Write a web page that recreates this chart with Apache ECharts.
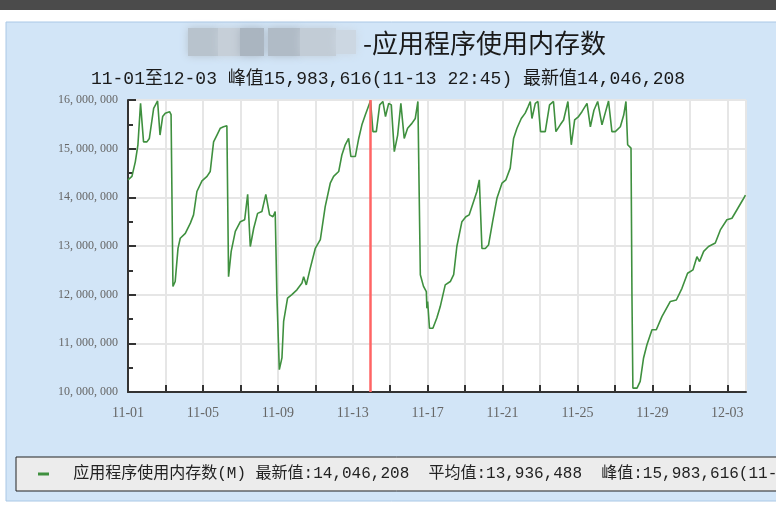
<!DOCTYPE html>
<html lang="zh">
<head>
    <meta charset="utf-8">
    <title>应用程序使用内存数</title>
    <script src="https://cdn.jsdelivr.net/npm/echarts@6/dist/echarts.min.js"></script>
    <style type="text/css">
        html, body {
            margin: 0;
            padding: 0;
            background: #fff;
        }

        #main {
            width: 776px;
            height: 507px;
        }
    </style>
</head>
<body>
<div id="main"></div>

<script type="text/javascript">
    // 时间(距 11-01 00:00 的天数) 和 内存数
    var dayOffsets = [
        0.00, 0.21, 0.39, 0.53, 0.67, 0.83, 1.01, 1.14, 1.22, 1.37, 1.58, 1.71, 1.85, 1.99, 2.22, 2.30,
        2.40, 2.52, 2.67, 2.79, 3.06, 3.33, 3.50, 3.68, 3.95, 4.22, 4.39, 4.57, 4.75, 4.93, 5.10, 5.28,
        5.37, 5.51, 5.73, 6.00, 6.23, 6.39, 6.53, 6.71, 6.92, 7.15, 7.36, 7.56, 7.74, 7.86, 7.95, 8.08,
        8.15, 8.22, 8.31, 8.52, 8.75, 9.02, 9.29, 9.38, 9.52, 9.73, 10.00, 10.27, 10.53, 10.80, 10.98,
        11.25, 11.42, 11.60, 11.78, 11.90, 12.14, 12.32, 12.49, 12.67, 12.95, 13.08, 13.26, 13.44, 13.61,
        13.75, 13.92, 14.06, 14.22, 14.40, 14.57, 14.75, 14.93, 15.16, 15.34, 15.48, 15.55, 15.61, 15.78,
        15.93, 15.96, 16.00, 16.10, 16.28, 16.49, 16.67, 16.94, 17.21, 17.39, 17.56, 17.83, 18.04, 18.22,
        18.45, 18.63, 18.76, 18.90, 19.08, 19.25, 19.47, 19.70, 19.97, 20.18, 20.41, 20.59, 20.77, 21.00,
        21.21, 21.36, 21.48, 21.57, 21.75, 21.89, 22.03, 22.28, 22.51, 22.72, 22.85, 23.08, 23.26, 23.49,
        23.67, 23.85, 24.06, 24.24, 24.51, 24.69, 24.88, 25.08, 25.31, 25.48, 25.66, 25.84, 26.02, 26.29,
        26.47, 26.59, 26.68, 26.86, 26.91, 26.96, 27.18, 27.35, 27.53, 27.71, 27.98, 28.21, 28.51, 28.96,
        29.28, 29.58, 29.88, 30.17, 30.38, 30.52, 30.74, 31.00, 31.36, 31.63, 31.98, 32.25, 32.51, 32.83,
        32.97
    ];
    var memValues = [
        14360000, 14430000, 14730000, 15080000, 15930000, 15140000, 15140000, 15210000, 15250000, 15830000,
        15980000, 15280000, 15660000, 15730000, 15760000, 15700000,
        12170000, 12270000, 12950000, 13160000, 13260000, 13470000, 13640000, 14120000, 14340000, 14430000,
        14530000, 15140000, 15280000, 15420000, 15450000, 15470000,
        12370000, 12890000, 13300000, 13500000, 13540000, 14060000, 12990000, 13360000, 13670000, 13710000,
        14060000, 13640000, 13600000, 13710000, 11990000, 10460000,
        10480000, 10700000, 11450000, 11930000, 12000000, 12100000, 12240000, 12370000, 12200000, 12540000,
        12950000, 13130000, 13810000, 14290000, 14430000,
        14530000, 14870000, 15080000, 15210000, 14840000, 14840000, 15210000, 15490000, 15690000, 15983616,
        15350000, 15350000, 15900000, 15970000,
        15660000, 15930000, 15900000, 14940000, 15280000, 15930000, 15210000, 15420000, 15520000, 15620000,
        15970000, 14050000, 12410000, 12170000,
        12060000, 11720000, 11860000, 11310000, 11310000, 11520000, 11750000, 12200000, 12270000, 12410000,
        12990000, 13500000, 13600000, 13640000,
        13910000, 14120000, 14360000, 12950000, 12950000, 13020000, 13500000, 13980000, 14290000, 14360000,
        14600000, 15210000, 15420000, 15620000,
        15730000, 15860000, 15970000, 15620000, 15930000, 15970000, 15350000, 15350000, 15900000, 15970000,
        15350000, 15490000, 15590000, 15970000,
        15080000, 15590000, 15660000, 15760000, 15930000, 15450000, 15790000, 15970000, 15490000, 15730000,
        15980000, 15350000, 15350000, 15450000,
        15690000, 15970000, 15080000, 15010000, 12000000, 10080000, 10080000, 10220000, 10700000, 10970000,
        11280000, 11280000, 11550000, 11860000,
        11890000, 12130000, 12440000, 12510000, 12780000, 12680000, 12890000, 12990000, 13060000, 13330000,
        13540000, 13570000, 13740000, 13950000,
        14046208
    ];
    var yTicks = [10000000, 11000000, 12000000, 13000000, 14000000, 15000000, 16000000];
    var peakDay = 12.95;
    var peakText = '15,983,616(11-13 22:45)';
    var latestText = '14,046,208';
    var avgText = '13,936,488';
    var seriesName = '应用程序使用内存数(M)';

    var lineData = [];
    for (var i = 0; i < dayOffsets.length; i++) {
        lineData.push([dayOffsets[i], memValues[i]]);
    }

    function fmtNum(v) {
        return String(Math.round(v)).replace(/\B(?=(\d{3})+(?!\d))/g, ', ');
    }

    function dayLabel(v) {
        if (Math.abs(v % 4) > 1e-6) return '';
        var d = v + 1;
        var m = 11;
        if (d > 30) {
            d = d - 30;
            m = 12;
        }
        return m + '-' + (d < 10 ? '0' + d : d);
    }

    var myChart = echarts.init(document.getElementById('main'));
    var option = {
        backgroundColor: '#fff',
        animation: false,
        title: [{
            text: '-应用程序使用内存数',
            left: 358,
            top: 25,
            textStyle: {
                fontFamily: 'Noto Sans CJK SC',
                fontSize: 26,
                fontWeight: 'normal',
                color: '#1a1a1a'
            }
        }, {
            text: '11-01至12-03 峰值' + peakText + ' 最新值' + latestText,
            left: 'center',
            top: 65,
            textStyle: {
                fontFamily: 'Liberation Mono, Noto Sans CJK SC',
                fontSize: 18,
                fontWeight: 'normal',
                color: '#1a1a1a'
            }
        }],
        graphic: [
            {type: 'rect', z: -20, silent: true, shape: {x: 0, y: 0, width: 776, height: 10}, style: {fill: '#4b4b4b'}},
            {type: 'rect', z: -19, silent: true, shape: {x: 6, y: 22, width: 790, height: 479},
                style: {fill: '#d2e5f7', stroke: '#aac8e6', lineWidth: 1}},
            // 打码区域
            {type: 'rect', z: -10, silent: true, shape: {x: 188, y: 28, width: 30, height: 28},
                style: {fill: '#b8c3cd', shadowBlur: 8, shadowColor: '#b8c3cd'}},
            {type: 'rect', z: -10, silent: true, shape: {x: 218, y: 28, width: 22, height: 28},
                style: {fill: '#c6cfd8', shadowBlur: 8, shadowColor: '#c6cfd8'}},
            {type: 'rect', z: -10, silent: true, shape: {x: 240, y: 28, width: 24, height: 28},
                style: {fill: '#aab5c0', shadowBlur: 8, shadowColor: '#aab5c0'}},
            {type: 'rect', z: -10, silent: true, shape: {x: 268, y: 28, width: 32, height: 28},
                style: {fill: '#b0bbc6', shadowBlur: 8, shadowColor: '#b0bbc6'}},
            {type: 'rect', z: -10, silent: true, shape: {x: 300, y: 28, width: 36, height: 28},
                style: {fill: '#c2ccd6', shadowBlur: 8, shadowColor: '#c2ccd6'}},
            {type: 'rect', z: -10, silent: true, shape: {x: 336, y: 30, width: 20, height: 24},
                style: {fill: '#ccd7e2', shadowBlur: 10, shadowColor: '#ccd7e2'}}
        ],
        legend: {
            left: 16,
            top: 457,
            padding: [9, 10, 9, 22],
            backgroundColor: '#ececec',
            borderColor: '#222',
            borderWidth: 1,
            borderRadius: 0,
            icon: 'rect',
            itemWidth: 11,
            itemHeight: 3,
            data: [seriesName],
            formatter: function (name) {
                return '  ' + name + ' 最新值:' + latestText + '  平均值:' + avgText + '  峰值:' + peakText;
            },
            textStyle: {
                fontFamily: 'Liberation Mono, Noto Sans CJK SC',
                fontSize: 16,
                color: '#222'
            }
        },
        grid: {
            left: 128,
            top: 100,
            right: 30,
            bottom: 115,
            show: true,
            backgroundColor: '#fff',
            borderWidth: 0
        },
        xAxis: {
            type: 'value',
            min: 0,
            max: 33,
            interval: 2,
            axisLine: {show: true, onZero: false, lineStyle: {color: '#333', width: 2}},
            axisTick: {show: true, inside: true, length: 7, lineStyle: {color: '#333', width: 2}},
            axisLabel: {
                formatter: dayLabel,
                color: '#666',
                fontFamily: 'Liberation Serif',
                fontSize: 14,
                margin: 14,
                showMaxLabel: false
            },
            splitLine: {show: true, lineStyle: {color: '#e6e6e6', width: 2}}
        },
        yAxis: {
            type: 'value',
            min: yTicks[0],
            max: yTicks[yTicks.length - 1],
            interval: 1000000,
            axisLine: {show: true, lineStyle: {color: '#333', width: 2}},
            axisTick: {show: true, inside: true, length: 8, lineStyle: {color: '#333', width: 2}},
            minorTick: {show: true, splitNumber: 2, length: 5, lineStyle: {color: '#333', width: 2}},
            axisLabel: {
                formatter: fmtNum,
                color: '#666',
                fontFamily: 'Liberation Serif',
                fontSize: 12,
                margin: 10
            },
            splitLine: {show: true, lineStyle: {color: '#e6e6e6', width: 2}}
        },
        series: [{
            name: seriesName,
            type: 'line',
            data: lineData,
            symbol: 'none',
            color: '#3f903f',
            lineStyle: {color: '#3f903f', width: 1.6},
            markLine: {
                silent: true,
                symbol: 'none',
                label: {show: false},
                lineStyle: {color: '#ff6464', width: 2.5, type: 'solid'},
                data: [{xAxis: peakDay}]
            }
        }]
    };
    myChart.setOption(option);
</script>
</body>
</html>
